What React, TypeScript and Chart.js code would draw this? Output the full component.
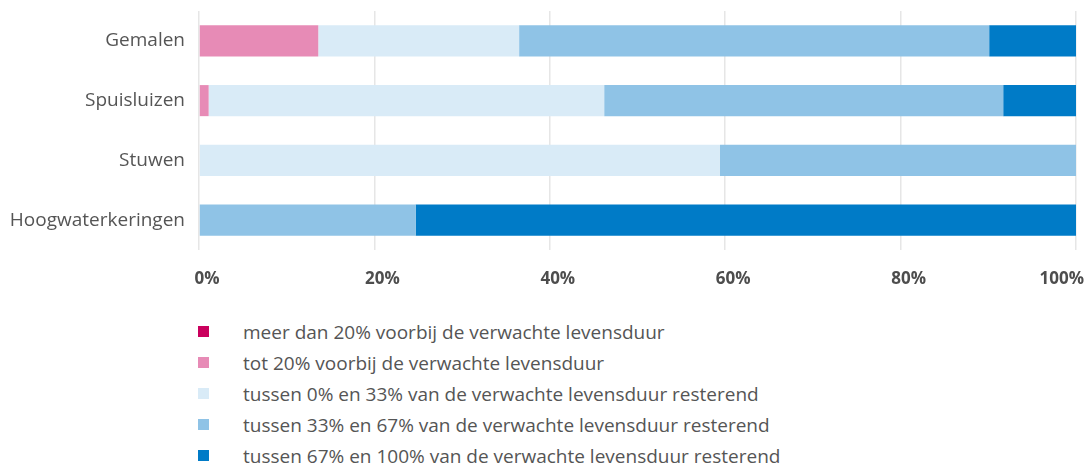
import React, { useEffect, useRef } from "react";
import { Chart, registerables } from "chart.js";

Chart.register(...registerables);

const categories = ["Gemalen", "Spuisluizen", "Stuwen", "Hoogwaterkeringen"];
const seriesLabels = [
  "meer dan 20% voorbij de verwachte levensduur",
  "tot 20% voorbij de verwachte levensduur",
  "tussen 0% en 33% van de verwachte levensduur resterend",
  "tussen 33% en 67% van de verwachte levensduur resterend",
  "tussen 67% en 100% van de verwachte levensduur resterend",
];
const seriesColors = ["#ca005d", "#e78bb6", "#d9ebf7", "#8fc3e6", "#007bc7"];
const meerDan20 = [0, 0, 0, 0];
const tot20 = [13.6, 1.1, 0, 0];
const tussen0en33 = [22.9, 45.1, 59.4, 0];
const tussen33en67 = [53.6, 45.5, 40.6, 24.7];
const tussen67en100 = [9.9, 8.3, 0, 75.3];
const seriesValues = [meerDan20, tot20, tussen0en33, tussen33en67, tussen67en100];
const xTicks = [0, 20, 40, 60, 80, 100];

const FONT = "'Open Sans', 'Noto Sans', sans-serif";

const lastLabelRight = {
  id: "lastLabelRight",
  beforeDraw(chart: any) {
    const scale = chart.scales.x;
    if (!scale || !scale.getLabelItems) return;
    const items = scale.getLabelItems();
    if (items && items.length) {
      items[items.length - 1].options.textAlign = "right";
    }
  },
};

export default function App() {
  const ref = useRef<HTMLCanvasElement | null>(null);

  useEffect(() => {
    if (!ref.current) return;
    const chart = new Chart(ref.current, {
      type: "bar",
      data: {
        labels: categories,
        datasets: seriesLabels.map((label, i) => ({
          label,
          data: seriesValues[i],
          backgroundColor: seriesColors[i],
          borderWidth: 0,
          barPercentage: 0.52,
          categoryPercentage: 1,
        })),
      },
      options: {
        indexAxis: "y",
        animation: false,
        responsive: false,
        maintainAspectRatio: false,
        layout: { padding: { top: 11, right: 11, left: 0, bottom: 0 } },
        plugins: {
          legend: { display: false },
          tooltip: { enabled: false },
        },
        scales: {
          x: {
            stacked: true,
            min: 0,
            max: 100,
            afterBuildTicks: (scale: any) => {
              scale.ticks = xTicks.map((v) => ({ value: v }));
            },
            afterFit: (scale: any) => {
              scale.height = 50;
              scale.paddingLeft = 0;
              scale.paddingRight = 0;
            },
            border: { display: false },
            grid: { color: "#e6e6e6", lineWidth: 1.5, drawTicks: false },
            ticks: {
              padding: 19,
              labelOffset: 8,
              color: "#4d4d4d",
              font: { family: FONT, size: 17, weight: "bold" },
              callback: (v: any) => v + "%",
            },
          },
          y: {
            stacked: true,
            afterFit: (scale: any) => {
              scale.width = 199;
              scale.paddingTop = 0;
              scale.paddingBottom = 0;
            },
            border: { display: false },
            grid: { display: false, drawTicks: false },
            ticks: {
              padding: 14,
              color: "#555555",
              font: { family: FONT, size: 19 },
            },
          },
        },
      },
      plugins: [lastLabelRight],
    } as any);
    return () => chart.destroy();
  }, []);

  return (
    <div style={{ position: "absolute", left: 0, top: 0, width: 1087, height: 465, background: "#fff" }}>
      <canvas ref={ref} width={1087} height={300} style={{ display: "block", width: 1087, height: 300 }} />
      <div style={{ position: "absolute", left: 198, top: 316 }}>
        {seriesLabels.map((label, i) => (
          <div key={label} style={{ display: "flex", alignItems: "center", height: 31 }}>
            <span style={{ display: "inline-block", width: 11, height: 11, background: seriesColors[i], marginRight: 34 }} />
            <span style={{ fontFamily: FONT, fontSize: 19, color: "#555555", whiteSpace: "nowrap" }}>{label}</span>
          </div>
        ))}
      </div>
    </div>
  );
}
